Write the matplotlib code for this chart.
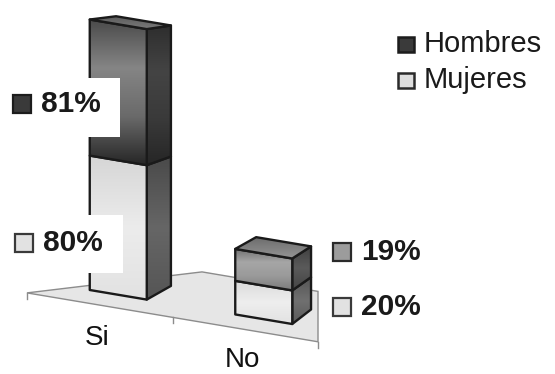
import numpy as np
import matplotlib
matplotlib.use("Agg")
import matplotlib.pyplot as plt
from matplotlib.patches import Polygon, Rectangle
from matplotlib.colors import LinearSegmentedColormap

plt.rcParams['font.family'] = ['Liberation Sans', 'DejaVu Sans']

# ---- data -------------------------------------------------------------
categories = ["Si", "No"]
series = ["Mujeres", "Hombres"]          # stacking order, bottom to top
mujeres = [80, 20]
hombres = [81, 19]

# ---- layout / styling -------------------------------------------------
W, H = 555, 374
PX = 1.68                 # pixels per percentage point
V0_PX = 290               # pixel row of value 0 at the first bar's base
SLOPE = 0.1               # baseline drop (in value units) per horizontal px
SLOT_LEFT, SLOT_W = 27.0, 145.5
BAR_W, BAR_OFF = 57.0, -10.0   # bar width and front-left offset from slot centre
K = 0.037                 # depth shrink toward the vanishing point
VP = (800.0, 213.7)
U_REF = SLOT_LEFT + SLOT_W / 2 + BAR_OFF

fig = plt.figure(figsize=(W / 100, H / 100), dpi=100)
ax = fig.add_axes([0, 0, 1, 1])
ax.set_xlim(0, W)
ax.set_ylim(-(H - V0_PX) / PX, V0_PX / PX)
ax.axis("off")


def base(u):
    return -SLOPE * (u - U_REF)


def back(p):
    u, v = p
    return (u + K * (VP[0] - u), v + K * (VP[1] - v))


def px2v(ypx):
    return (V0_PX - ypx) / PX


z = [1.0]


def shaded(verts, stops, edge="#1a1a1a", lw=1.7):
    """Polygon filled with a vertical gradient (stops listed top to bottom)."""
    verts = np.asarray(verts)
    cmap = LinearSegmentedColormap.from_list("g", stops)
    z[0] += 1
    poly = Polygon(verts, closed=True, facecolor="none", edgecolor=edge,
                   linewidth=lw, joinstyle="round", zorder=z[0] + 0.5)
    ax.add_patch(poly)
    grad = np.linspace(0, 1, 256).reshape(-1, 1)
    im = ax.imshow(grad, cmap=cmap, aspect="auto", origin="upper",
                   extent=(verts[:, 0].min(), verts[:, 0].max(),
                           verts[:, 1].min(), verts[:, 1].max()),
                   interpolation="bilinear", zorder=z[0])
    im.set_clip_path(poly)
    return poly


# floor
f_fl, f_bl, f_r = 27.0, 202.0, 318.0
floor = [(f_fl, base(f_fl) - 8), (f_bl, base(f_bl) + 22),
         (f_r, base(f_r) + 22), (f_r, base(f_r) - 8)]
ax.add_patch(Polygon(floor, closed=True, facecolor="#e6e6e6",
                     edgecolor="#8c8c8c", linewidth=1.0, zorder=1))
for t in (f_fl, SLOT_LEFT + SLOT_W, f_r):
    ax.plot([t, t], [base(t) - 8, base(t) - 11.5], color="#8c8c8c",
            lw=1.0, zorder=1)

# face colours per (category, series)
styles = {
    ("Si", "Hombres"): dict(front=["#4a4a4a", "#858585", "#6a6a6a", "#262626"],
                           side=["#2e2e2e", "#444444", "#3a3a3a", "#262626"],
                           top=["#5c5c5c", "#7a7a7a"]),
    ("Si", "Mujeres"): dict(front=["#d6d6d6", "#ececec", "#e2e2e2"],
                           side=["#4a4a4a", "#666666", "#555555"],
                           top=["#d0d0d0", "#e0e0e0"]),
    ("No", "Hombres"): dict(front=["#6e6e6e", "#a6a6a6", "#9a9a9a", "#7c7c7c"],
                           side=["#3e3e3e", "#5a5a5a", "#454545"],
                           top=["#6a6a6a", "#949494"]),
    ("No", "Mujeres"): dict(front=["#dadada", "#eeeeee", "#e2e2e2"],
                           side=["#555555", "#707070", "#5a5a5a"],
                           top=["#d0d0d0", "#e0e0e0"]),
}

values = {"Mujeres": mujeres, "Hombres": hombres}
for i, cat in enumerate(categories):
    u0 = SLOT_LEFT + SLOT_W * (i + 0.5) + BAR_OFF
    u1 = u0 + BAR_W
    b0, b1 = base(u0), base(u1)
    lo = 0.0
    for j, s in enumerate(series):
        hi = lo + values[s][i]
        st = styles[(cat, s)]
        fbl, fbr = (u0, b0 + lo), (u1, b1 + lo)
        ftl, ftr = (u0, b0 + hi), (u1, b1 + hi)
        shaded([fbr, back(fbr), back(ftr), ftr], st["side"])
        shaded([fbl, fbr, ftr, ftl], st["front"])
        if j == len(series) - 1:
            shaded([ftl, ftr, back(ftr), back(ftl)], st["top"])
        lo = hi

# category labels below the floor's front edge, kept inside the canvas
for i, cat in enumerate(categories):
    uc = SLOT_LEFT + SLOT_W * (i + 0.5) - 3
    yv = max(base(uc) - 8 - 20, px2v(360))
    ax.text(uc, yv, cat, ha="center", va="center",
            fontsize=20, color="#111111", zorder=50)

# value labels (white boxes sit over the bar like the chart's data labels)
key_cols = {("Si", "Hombres"): ("#3a3a3a", "#1c1c1c"),
            ("Si", "Mujeres"): ("#e2e2e2", "#3a3a3a"),
            ("No", "Hombres"): ("#9c9c9c", "#2a2a2a"),
            ("No", "Mujeres"): ("#e2e2e2", "#3a3a3a")}
label_pos = {("Si", "Hombres"): (13, 104, (0, 120, 78, 137)),
             ("Si", "Mujeres"): (15, 243, (0, 123, 215, 273)),
             ("No", "Hombres"): (333, 252, (324, 430, 232, 272)),
             ("No", "Mujeres"): (333, 307, (324, 430, 288, 327))}
for i, cat in enumerate(categories):
    for s in series:
        kx, ky, (bx0, bx1, by0, by1) = label_pos[(cat, s)]
        ax.add_patch(Rectangle((bx0, px2v(by1)), bx1 - bx0,
                               px2v(by0) - px2v(by1), facecolor="white",
                               edgecolor="none", zorder=40))
        fc, ec = key_cols[(cat, s)]
        ax.add_patch(Rectangle((kx, px2v(ky + 9)), 18, 18 / PX,
                               facecolor=fc, edgecolor=ec, lw=1.6, zorder=41))
        ax.text(kx + 28, px2v(ky), f"{values[s][i]}%", ha="left",
                va="center", fontsize=21.5, fontweight="bold",
                color="#1a1a1a", zorder=42)

# legend
leg = [("Hombres", "#3a3a3a", "#1c1c1c", 44), ("Mujeres", "#dedede", "#2a2a2a", 80)]
for name, fc, ec, y in leg:
    ax.add_patch(Rectangle((398, px2v(y + 7.5)), 16, 15 / PX,
                           facecolor=fc, edgecolor=ec, lw=1.8, zorder=41))
    ax.text(424, px2v(y), name, ha="left", va="center", fontsize=21,
            color="#1a1a1a", zorder=42)

fig.savefig("out.png", dpi=100, facecolor="white")
